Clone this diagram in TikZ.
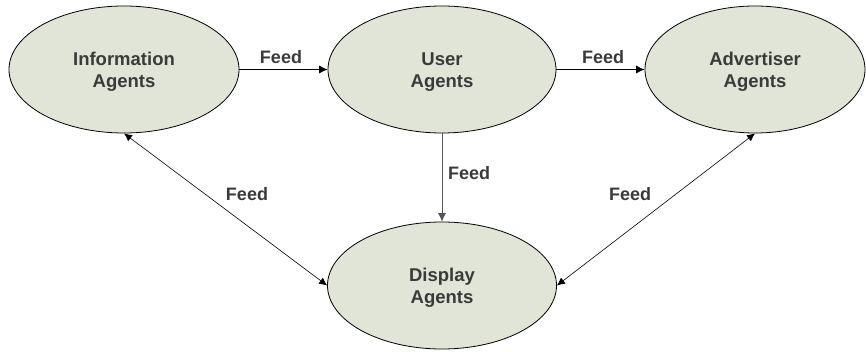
\documentclass[tikz,border=0pt]{standalone}
\usepackage{fontspec}
\setmainfont{Liberation Sans}
\usetikzlibrary{shapes.geometric,arrows.meta}
\definecolor{agentfill}{HTML}{E0E5D8}
\definecolor{agenttext}{HTML}{3A3A3A}
\definecolor{linkgray}{HTML}{555555}
\tikzset{
  agent/.style={ellipse, draw=black, line width=0.8pt, fill=agentfill,
    inner sep=0pt, minimum height=127pt},
  agentname/.style={text=agenttext, align=center, inner sep=0pt,
    font=\fontsize{18.5}{22.5}\selectfont\bfseries},
  link/.style={draw=black, line width=0.7pt, -{Latex[length=8.5pt,width=8pt]}},
  biglink/.style={draw=black, line width=0.6pt, {Latex[length=8pt,width=7.5pt]}-{Latex[length=8pt,width=7.5pt]}},
  feed/.style={text=agenttext, inner sep=0pt, font=\fontsize{18}{22}\selectfont\bfseries}
}
\begin{document}
\begin{tikzpicture}[x=1pt,y=-1pt]
\useasboundingbox (0,0) rectangle (866,352);
% agents
\node[agent, minimum width=230pt] (info) at (124,69.5) {};
\node[agent, minimum width=228pt] (user) at (442,69.5) {};
\node[agent, minimum width=220pt] (adv) at (755,69.5) {};
\node[agent, minimum width=229pt] (disp) at (442,285.5) {};
\node[agentname] (infoname) at ([yshift=-2.5pt]info.center) {Information\\Agents};
\node[agentname] (username) at ([yshift=-2.5pt]user.center) {User\\Agents};
\node[agentname] (advname) at ([yshift=-2.5pt]adv.center) {Advertiser\\Agents};
\node[agentname] (dispname) at ([yshift=-2.5pt]disp.center) {Display\\Agents};
% feeds
\draw[link] (info.east) -- (user.west);
\draw[link] (user.east) -- (adv.west);
\draw[link, draw=linkgray] (user.south) -- (disp.north);
\draw[biglink] (info.south) -- (disp.west);
\draw[biglink] (disp.east) -- (adv.south);
% labels
\node[feed] (f1) at (281,57) {Feed};
\node[feed] (f2) at (603,57) {Feed};
\node[feed] (f3) at (469,173) {Feed};
\node[feed] (f4) at (247,194) {Feed};
\node[feed] (f5) at (630,194) {Feed};
\end{tikzpicture}
\end{document}
